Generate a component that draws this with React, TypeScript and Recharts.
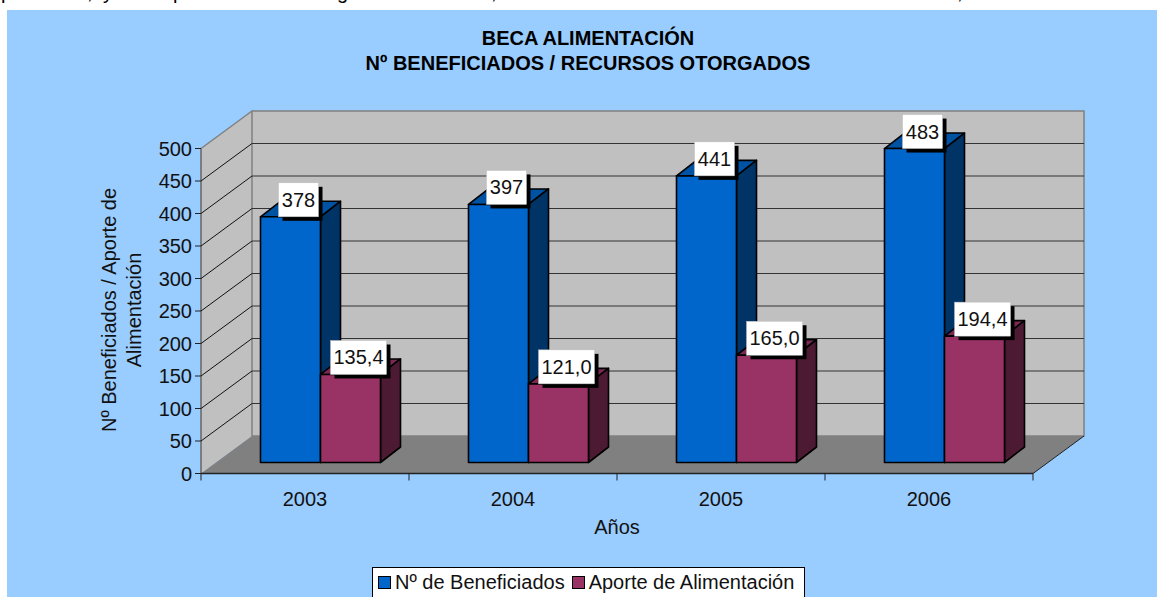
import { BarChart, Bar, XAxis, YAxis, CartesianGrid, Legend, LabelList, Customized } from 'recharts';

const years = ['2003', '2004', '2005', '2006'];
const beneficiados = [378, 397, 441, 483];
const aporte = [135.4, 121.0, 165.0, 194.4];
const yTicks = [0, 50, 100, 150, 200, 250, 300, 350, 400, 450, 500];
// only the descenders of the cut-off line above the chart can be read
const cutGlyphs = ['p', ',', 'y', 'p', 'g', ',', ','];
const cutGlyphX = [1, 87, 103, 173, 337, 491, 957];

const rows = years.map((year, i) => ({ year, beneficiados: beneficiados[i], aporte: aporte[i] }));

const W = 1157;
const H = 597;
// front plane of the fake 3D box
const LEFT = 201;
const RIGHT = 1033;
const TOP = 148.5;
const BOTTOM = 473.5;
const DEPTH_X = 51;
const DEPTH_Y = 37.5;
const BAND = (RIGHT - LEFT) / years.length;
// bars sit a bit inside the box
const BAR_DX = 15;
const BAR_DY = 11;
const SIDE_X = 20;
const SIDE_Y = 15.5;

const FONT = '"Liberation Sans", Arial, sans-serif';
const FONT_SIZE = 20;
const BLUE = { front: '#0066CC', top: '#0052A3', side: '#003366' };
const WINE = { front: '#993366', top: '#7A2952', side: '#4D1A33' };

function Walls() {
  return (
    <svg width={W} height={H} style={{ position: 'absolute', left: 0, top: 0 }}>
      <polygon
        points={`${LEFT},${BOTTOM} ${LEFT},${TOP} ${LEFT + DEPTH_X},${TOP - DEPTH_Y} ${LEFT + DEPTH_X},${BOTTOM - DEPTH_Y}`}
        fill="#C0C0C0"
      />
      <rect
        x={LEFT + DEPTH_X}
        y={TOP - DEPTH_Y}
        width={RIGHT - LEFT}
        height={BOTTOM - TOP}
        fill="#C0C0C0"
        stroke="#808080"
        strokeWidth={1.5}
      />
      <polygon
        points={`${LEFT},${BOTTOM} ${LEFT + DEPTH_X},${BOTTOM - DEPTH_Y} ${RIGHT + DEPTH_X},${BOTTOM - DEPTH_Y} ${RIGHT},${BOTTOM}`}
        fill="#808080"
      />
      <line x1={LEFT} y1={TOP} x2={LEFT + DEPTH_X} y2={TOP - DEPTH_Y} stroke="#808080" strokeWidth={1.5} />
      <line x1={RIGHT} y1={BOTTOM} x2={RIGHT + DEPTH_X} y2={BOTTOM - DEPTH_Y} stroke="#222" />
      <line x1={LEFT} y1={BOTTOM} x2={LEFT} y2={TOP} stroke="#666" strokeWidth={1.5} />
    </svg>
  );
}

// each grid line runs along the side wall and then across the back wall
function GridLine(props: any) {
  const { x1, x2, y1 } = props;
  if (y1 >= BOTTOM - 1 || y1 <= TOP + 1) return <g />;
  return (
    <g fill="none">
      <line x1={x1} y1={y1} x2={x1 + DEPTH_X} y2={y1 - DEPTH_Y} stroke="#111" />
      <line x1={x1 + DEPTH_X} y1={y1 - DEPTH_Y} x2={x2 + DEPTH_X} y2={y1 - DEPTH_Y} stroke="#333" />
    </g>
  );
}

function Box3D(props: any) {
  const { x, y, width, height, colors } = props;
  const fx = x + BAR_DX;
  const fy = y - BAR_DY;
  const top = `${fx},${fy} ${fx + SIDE_X},${fy - SIDE_Y} ${fx + width + SIDE_X},${fy - SIDE_Y} ${fx + width},${fy}`;
  const side = `${fx + width},${fy} ${fx + width + SIDE_X},${fy - SIDE_Y} ${fx + width + SIDE_X},${fy + height - SIDE_Y} ${fx + width},${fy + height}`;
  return (
    <g stroke="#000" strokeWidth={1.6} strokeLinejoin="round">
      <polygon points={top} fill={colors.top} />
      <polygon points={side} fill={colors.side} />
      <rect x={fx} y={fy} width={width} height={height} fill={colors.front} />
    </g>
  );
}

function ValueBox(props: any) {
  const { x, y, width, value } = props;
  const isDecimal = value < 200;
  const text = isDecimal ? value.toFixed(1).replace('.', ',') : String(value);
  const boxW = isDecimal ? 56 : 40;
  const boxH = 34;
  const cx = x + BAR_DX + width / 2 + 8;
  const bottom = y - BAR_DY;
  return (
    <g>
      <rect x={cx - boxW / 2 + 4} y={bottom - boxH + 4} width={boxW} height={boxH} fill="#000" />
      <rect x={cx - boxW / 2} y={bottom - boxH} width={boxW} height={boxH} fill="#fff" stroke="#bbb" strokeWidth={0.5} />
      <text x={cx} y={bottom - boxH / 2 + 7} textAnchor="middle" fontSize={FONT_SIZE} fontFamily={FONT} fill="#111">
        {text}
      </text>
    </g>
  );
}

function XTick(props: any) {
  const { x, payload, index } = props;
  const edge = x - BAND / 2;
  return (
    <g>
      <line x1={edge} y1={BOTTOM} x2={edge} y2={BOTTOM + 7} stroke="#222" />
      {index === years.length - 1 && <line x1={edge + BAND} y1={BOTTOM} x2={edge + BAND} y2={BOTTOM + 7} stroke="#222" />}
      <text x={x} y={BOTTOM + 32} textAnchor="middle" fontSize={FONT_SIZE} fontFamily={FONT} fill="#111">
        {payload.value}
      </text>
    </g>
  );
}

function LegendBox() {
  const item = (color: string, label: string) => (
    <span style={{ display: 'inline-flex', alignItems: 'center' }}>
      <span style={{ width: 11, height: 11, background: color, border: '1.5px solid #000', marginRight: 4 }} />
      {label}
    </span>
  );
  return (
    <div
      style={{
        boxSizing: 'border-box',
        width: 433,
        height: 40,
        background: '#fff',
        border: '1px solid #000',
        padding: '2px 0 0 5px',
        fontFamily: FONT,
        fontSize: FONT_SIZE,
        lineHeight: '24px',
        color: '#111',
        display: 'flex',
        alignItems: 'flex-start',
        gap: 7,
        whiteSpace: 'nowrap',
      }}
    >
      {item(BLUE.front, 'Nº de Beneficiados')}
      {item(WINE.front, 'Aporte de Alimentación')}
    </div>
  );
}

function YTitle() {
  return (
    <g fontFamily={FONT} fontSize={FONT_SIZE} fill="#111" textAnchor="middle">
      <text transform="translate(116,310) rotate(-90)">Nº Beneficiados / Aporte de</text>
      <text transform="translate(141,310) rotate(-90)">Alimentación</text>
    </g>
  );
}

function Titles() {
  return (
    <g fontFamily={FONT} fontSize={FONT_SIZE} fontWeight="bold" fill="#000" textAnchor="middle">
      <text x={588} y={45}>BECA ALIMENTACIÓN</text>
      <text x={588} y={70}>Nº BENEFICIADOS / RECURSOS OTORGADOS</text>
    </g>
  );
}

export default function App() {
  return (
    <div style={{ position: 'fixed', left: 0, top: 0, width: W, height: H, overflow: 'hidden', background: '#fff' }}>
      {cutGlyphs.map((glyph, i) => (
        <span
          key={i}
          style={{ position: 'absolute', left: cutGlyphX[i], top: -20, fontFamily: FONT, fontSize: FONT_SIZE, lineHeight: '24px', color: '#000' }}
        >
          {glyph}
        </span>
      ))}
      <div style={{ position: 'absolute', left: 7, top: 10, right: 0, bottom: 0, background: '#99CCFF' }} />
      <Walls />
      <div style={{ position: 'absolute', left: 0, top: 0 }}>
        <BarChart
          width={W}
          height={H}
          data={rows}
          margin={{ left: 0, right: W - RIGHT, top: TOP, bottom: 0 }}
          barGap={0}
          barCategoryGap={44.5}
        >
          <CartesianGrid vertical={false} horizontal={GridLine} />
          <XAxis
            dataKey="year"
            axisLine={{ stroke: '#222', strokeWidth: 1.5 }}
            tickLine={false}
            tick={XTick}
            height={H - BOTTOM}
            label={{ value: 'Años', position: 'insideTop', offset: 46, fontSize: FONT_SIZE, fontFamily: FONT, fill: '#111' }}
          />
          <YAxis
            domain={[0, 500]}
            ticks={yTicks}
            width={LEFT}
            interval={0}
            axisLine={false}
            tickLine={{ stroke: '#222' }}
            tickSize={6}
            tickMargin={3}
            tick={{ fontSize: FONT_SIZE, fontFamily: FONT, fill: '#111' }}
          />
          <Bar dataKey="beneficiados" isAnimationActive={false} shape={<Box3D colors={BLUE} />}>
            <LabelList dataKey="beneficiados" content={ValueBox} />
          </Bar>
          <Bar dataKey="aporte" isAnimationActive={false} shape={<Box3D colors={WINE} />}>
            <LabelList dataKey="aporte" content={ValueBox} />
          </Bar>
          <Legend
            content={LegendBox}
            verticalAlign="middle"
            wrapperStyle={{ position: 'absolute', left: 372, top: 567, width: 433, bottom: 'auto' }}
          />
          <Customized component={YTitle} />
          <Customized component={Titles} />
        </BarChart>
      </div>
    </div>
  );
}
